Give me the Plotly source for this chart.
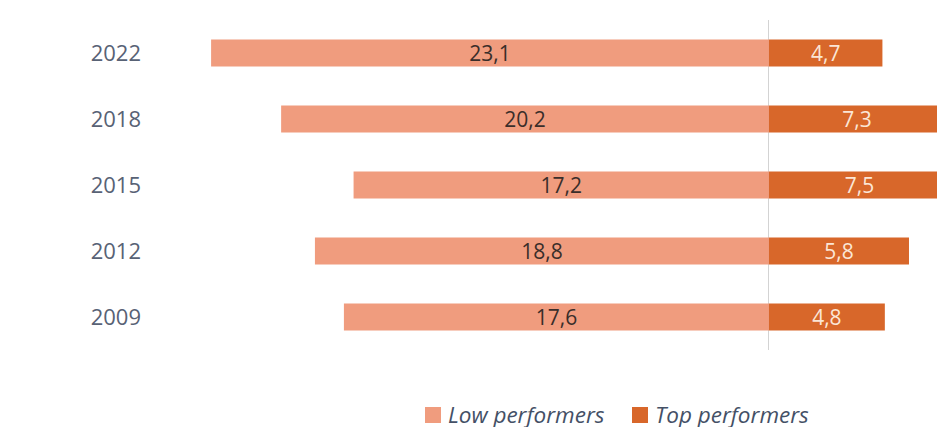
import plotly.graph_objects as go

years = ["2009", "2012", "2015", "2018", "2022"]
low_performers = [17.6, 18.8, 17.2, 20.2, 23.1]
top_performers = [4.8, 5.8, 7.5, 7.3, 4.7]
series_names = ["Low performers", "Top performers"]

LOW_COLOR = "#F09C7E"
TOP_COLOR = "#D8672A"
FONT = "Open Sans"

W, H = 937, 427
ML, MR, MT, MB = 150, 0, 20, 77
PW, PH = W - ML - MR, H - MT - MB


def px_x(sx):
    return (sx - ML) / PW


def px_y(sy):
    return (MT + PH - sy) / PH


fig = go.Figure()
fig.add_trace(go.Bar(
    y=years,
    x=[-v for v in low_performers],
    customdata=low_performers,
    orientation="h",
    name=series_names[0],
    marker=dict(color=LOW_COLOR, line=dict(width=0)),
    texttemplate="%{customdata:.1f}",
    textposition="inside",
    insidetextanchor="middle",
    constraintext="none",
    textangle=0,
    insidetextfont=dict(family=FONT, size=21, color="#3a2e2a"),
    hoverinfo="skip",
    showlegend=False,
))
fig.add_trace(go.Bar(
    y=years,
    x=top_performers,
    orientation="h",
    name=series_names[1],
    marker=dict(color=TOP_COLOR, line=dict(width=0)),
    texttemplate="%{x:.1f}",
    textposition="inside",
    insidetextanchor="middle",
    constraintext="none",
    textangle=0,
    insidetextfont=dict(family=FONT, size=21, color="#FBE6D6"),
    hoverinfo="skip",
    showlegend=False,
))

# manual legend (square + italic label)
legend_items = [
    (series_names[0], LOW_COLOR, 425, 446),
    (series_names[1], TOP_COLOR, 632, 653),
]
shapes, annotations = [], []
for name, color, sq_x, tx_x in legend_items:
    shapes.append(dict(
        type="rect", xref="paper", yref="paper",
        x0=px_x(sq_x), x1=px_x(sq_x + 16),
        y0=px_y(423), y1=px_y(407),
        fillcolor=color, line=dict(width=0),
    ))
    annotations.append(dict(
        text=name, xref="paper", yref="paper",
        x=px_x(tx_x), y=px_y(414),
        xanchor="left", yanchor="middle", showarrow=False,
        font=dict(family=FONT, size=22.5, color="#445066", style="italic"),
    ))

fig.update_layout(
    width=W, height=H,
    margin=dict(l=ML, r=MR, t=MT, b=MB),
    paper_bgcolor="white", plot_bgcolor="white",
    barmode="relative",
    bargap=0.59,
    separators=",.",
    font=dict(family=FONT, color="#5b6374"),
    showlegend=False,
    shapes=shapes,
    annotations=annotations,
    xaxis=dict(
        range=[-25.63, 6.96],
        showgrid=False,
        zeroline=True, zerolinecolor="#d3d3d3", zerolinewidth=1,
        showticklabels=False, ticks="",
        showline=False, fixedrange=True,
    ),
    yaxis=dict(
        type="category",
        categoryorder="array", categoryarray=years,
        showgrid=False, zeroline=False, showline=False,
        ticks="",
        tickfont=dict(family=FONT, size=22, color="#586275"),
        ticklabelstandoff=8,
        fixedrange=True,
    ),
)

fig.write_html(
    "out.html",
    config={"displayModeBar": False},
    post_script="document.body.style.margin='0';document.body.style.overflow='hidden';",
)
